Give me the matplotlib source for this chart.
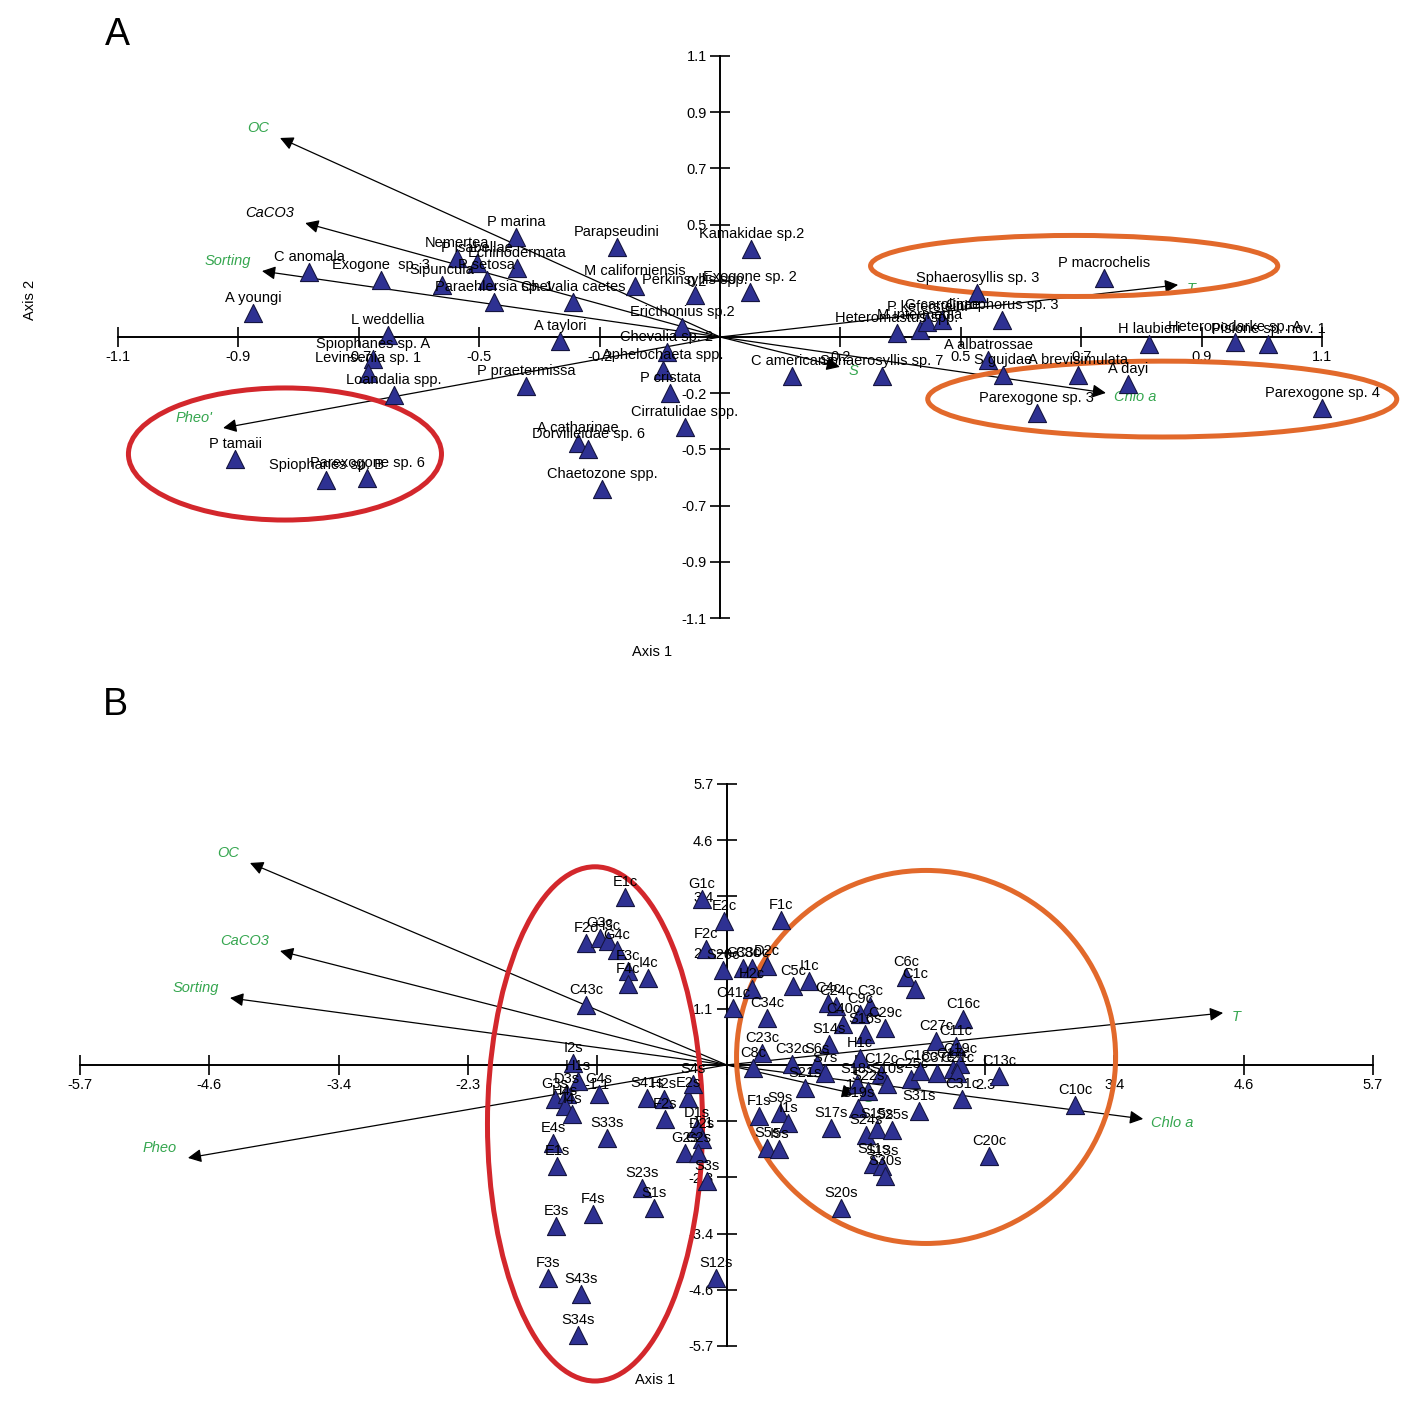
import numpy as np
import matplotlib.pyplot as plt
from matplotlib.patches import Ellipse

plt.rcParams['font.family'] = ['Liberation Sans', 'DejaVu Sans']

GREEN = '#35a64f'
TRI = '#2e3192'

# ---- panel A : species scores ----
sp_names = ['A youngi', 'C anomala', 'Exogone  sp. 3', 'Sipuncula', 'Nemertea', 'P isabellae',
            'Echinodermata', 'P setosa', 'Paraehlersia sp. 1', 'L weddellia', 'P marina',
            'Parapseudini', 'Chevalia caetes', 'M californiensis', 'Perkinsyllis spp.',
            'Ericthonius sp.2', 'A taylori', 'Chevalia sp. 2', 'Aphelochaeta spp.', 'P cristata',
            'Cirratulidae spp.', 'P praetermissa', 'A catharinae', 'Dorvilleidae sp. 6',
            'Chaetozone spp.', 'Kamakidae sp.2', 'Exogone sp. 2', 'C americana',
            'Sphaerosyllis sp. 7', 'Heteromastus spp.', 'M intermedia', 'P kefersteini',
            'G carolinae', 'Cirrophorus sp. 3', 'Sphaerosyllis sp. 3', 'A albatrossae', 'S gujdae',
            'P macrochelis', 'H laubieri', 'Heteropodarke sp. A', 'Pisione sp. nov. 1',
            'A brevisimulata', 'A dayi', 'Parexogone sp. 4', 'Parexogone sp. 3',
            'Spiophanes sp. A', 'Levinsenia sp. 1', 'Loandalia spp.', 'P tamaii',
            'Spiophanes sp. B', 'Parexogone sp. 6']
sp_x = [-0.853, -0.751, -0.619, -0.508, -0.481, -0.444, -0.371, -0.426, -0.413, -0.607, -0.373,
        -0.188, -0.269, -0.155, -0.046, -0.069, -0.292, -0.097, -0.104, -0.091, -0.064, -0.354,
        -0.259, -0.241, -0.216, 0.057, 0.055, 0.132, 0.296, 0.323, 0.365, 0.378, 0.406, 0.515,
        0.470, 0.490, 0.517, 0.702, 0.784, 0.941, 1.001, 0.654, 0.745, 1.100, 0.579, -0.634,
        -0.643, -0.596, -0.886, -0.720, -0.645]
sp_y = [0.094, 0.254, 0.223, 0.204, 0.309, 0.290, 0.270, 0.223, 0.137, 0.008, 0.391, 0.352,
        0.137, 0.200, 0.164, 0.039, -0.016, -0.059, -0.129, -0.219, -0.352, -0.192, -0.415,
        -0.438, -0.595, 0.344, 0.176, -0.153, -0.153, 0.016, 0.027, 0.059, 0.067, 0.067, 0.172,
        -0.090, -0.149, 0.231, -0.027, -0.020, -0.027, -0.149, -0.184, -0.278, -0.297, -0.086,
        -0.141, -0.227, -0.477, -0.560, -0.552]

# ---- panel A : environmental vectors ----
env_a_names = ['OC', 'CaCO3', 'Sorting', "Pheo'", 'T', 'Chlo a', 'S']
env_a_x = [-0.804, -0.758, -0.837, -0.908, 0.837, 0.705, 0.219]
env_a_y = [0.779, 0.446, 0.258, -0.356, 0.204, -0.219, -0.117]

# ---- panel B : sample scores ----
st_names = ['E1c', 'F2c', 'G3c', 'H3c', 'G4c', 'F3c', 'F4c', 'I4c', 'C43c', 'I2s', 'H1s', 'G3s',
            'D3s', 'H4s', 'I4s', 'G4s', 'S41s', 'H2s', 'E2s', 'S4s', 'S33s', 'E4s', 'E1s', 'S23s',
            'S1s', 'F4s', 'E3s', 'F3s', 'S43s', 'S34s', 'S12s', 'F2s', 'D1s', 'D2s', 'G2s', 'C2s',
            'S3s', 'G1c', 'E2c', 'F1c', 'F2c', 'S20c', 'C38c', 'C30c', 'D2c', 'H2c', 'C5c', 'I1c',
            'C41c', 'C34c', 'C6c', 'C1c', 'C24c', 'C4c', 'C3c', 'C9c', 'C40c', 'C29c', 'C16c',
            'C27c', 'C11c', 'S14s', 'H1c', 'C23c', 'C8c', 'C32c', 'S6s', 'S7s', 'S16s', 'S21s',
            'S18s', 'C12c', 'S10s', 'C25c', 'C18c', 'C37c', 'C17c', 'C19c', 'C21c', 'C13c', 'C31c',
            'S31s', 'S22s', 'F1s', 'S9s', 'I1s', 'S5s', 'I5s', 'S17s', 'S19s', 'S24s', 'S15s',
            'S25s', 'S11s', 'S13s', 'S30s', 'S20s', 'C20c', 'C10c']
st_x = [-0.895, -1.239, -1.116, -1.045, -0.966, -0.869, -0.869, -0.692, -1.239, -1.354, -1.310,
        -1.512, -1.407, -1.424, -1.362, -1.124, -0.701, -0.551, -0.340, -0.295, -1.054, -1.530,
        -1.495, -0.745, -0.639, -1.177, -1.504, -1.574, -1.283, -1.310, -0.093, -0.542, -0.260,
        -0.216, -0.366, -0.251, -0.172, -0.216, -0.022, 0.481, -0.181, -0.031, 0.146, 0.225,
        0.357, 0.225, 0.586, 0.728, 0.057, 0.357, 1.583, 1.662, 0.965, 0.895, 1.265, 1.177,
        1.027, 1.398, 2.086, 1.847, 2.023, 0.903, 1.177, 0.313, 0.234, 0.578, 0.798, 0.869,
        1.221, 0.692, 1.151, 1.362, 1.415, 1.627, 1.706, 1.856, 1.997, 2.059, 2.032, 2.403,
        2.077, 1.698, 1.248, 0.287, 0.472, 0.542, 0.357, 0.463, 0.922, 1.160, 1.230, 1.327,
        1.459, 1.292, 1.371, 1.398, 1.009, 2.315, 3.073]
st_y = [3.408, 2.475, 2.576, 2.515, 2.333, 1.907, 1.643, 1.765, 1.217, 0.041, -0.325, -0.690,
        -0.588, -0.832, -0.994, -0.588, -0.669, -0.690, -0.669, -0.385, -1.481, -1.582, -2.049,
        -2.495, -2.901, -3.022, -3.266, -4.320, -4.645, -5.477, -4.320, -1.095, -1.278, -1.501,
        -1.785, -1.785, -2.353, 3.367, 2.921, 2.941, 2.353, 1.927, 1.968, 1.968, 2.008, 1.542,
        1.602, 1.704, 1.156, 0.953, 1.785, 1.542, 1.197, 1.258, 1.197, 1.034, 0.832, 0.751,
        0.933, 0.487, 0.385, 0.426, 0.142, 0.243, -0.061, 0.020, 0.020, -0.162, 0.629, -0.467,
        -0.385, -0.183, -0.385, -0.284, -0.122, -0.162, -0.081, 0.020, -0.162, -0.223, -0.690,
        -0.933, -0.527, -1.034, -0.974, -1.176, -1.684, -1.704, -1.278, -0.872, -1.420, -1.298,
        -1.318, -2.008, -2.049, -2.252, -2.901, -1.846, -0.811]

# ---- panel B : environmental vectors ----
env_b_names = ['OC', 'CaCO3', 'Sorting', 'Pheo', 'T', 'Chlo a', 'S']
env_b_x = [-4.202, -3.937, -4.378, -4.749, 4.378, 3.673, 1.133]
env_b_y = [4.097, 2.312, 1.359, -1.886, 1.055, -1.095, -0.588]

ticks_a = ['-1.1', '-0.9', '-0.7', '-0.5', '-0.2', '', '0.2', '0.5', '0.7', '0.9', '1.1']
ticks_b = ['-5.7', '-4.6', '-3.4', '-2.3', '-1.1', '', '1.1', '2.3', '3.4', '4.6', '5.7']


def draw_panel(ax, lim, tick_labels, px, py, names, ex, ey, enames, ecolors):
    ax.set_xlim(-lim, lim)
    ax.set_ylim(-lim, lim)
    for s in ['top', 'right']:
        ax.spines[s].set_visible(False)
    for s in ['left', 'bottom']:
        ax.spines[s].set_position(('data', 0))
        ax.spines[s].set_linewidth(1.4)
    pos = np.linspace(-lim, lim, 11)
    ax.set_xticks(pos, labels=tick_labels)
    ax.set_yticks(pos, labels=tick_labels)
    ax.tick_params(direction='inout', length=15, width=1.2, labelsize=10.5, pad=2)
    ax.patch.set_alpha(0)

    # vectors
    for x, y, n, c in zip(ex, ey, enames, ecolors):
        ax.annotate('', xy=(x, y), xytext=(0, 0),
                    arrowprops=dict(arrowstyle='-|>', color='k', lw=0.9,
                                    mutation_scale=20, shrinkA=0, shrinkB=0))
        if x < 0:
            ax.annotate(n, (x, y), xytext=(-8, 2), textcoords='offset points',
                        ha='right', va='bottom', color=c, style='italic', fontsize=10.5)
        else:
            ax.annotate(n, (x, y), xytext=(6, -3), textcoords='offset points',
                        ha='left', va='center', color=c, style='italic', fontsize=10.5)

    ax.scatter(px, py, marker='^', s=170, c=TRI, edgecolors='#151540',
               linewidths=0.8, zorder=4, clip_on=False)
    for x, y, n in zip(px, py, names):
        ax.annotate(n, (x, y), xytext=(0, 6), textcoords='offset points',
                    ha='center', va='bottom', fontsize=10.5, zorder=5)


def ring(ax, xy, w, h, col):
    ax.add_patch(Ellipse(xy, w, h, fill=False, ec=col, lw=3.6, clip_on=False, zorder=3))


fig = plt.figure(figsize=(14.17, 14.24), dpi=100)

ax_a = fig.add_axes([0.0833, 0.566, 0.8497, 0.3947])
draw_panel(ax_a, 1.1, ticks_a, sp_x, sp_y, sp_names, env_a_x, env_a_y, env_a_names,
           [GREEN, 'k', GREEN, GREEN, GREEN, GREEN, GREEN])
ring(ax_a, (-0.795, -0.458), 0.572, 0.517, '#d3272c')
ring(ax_a, (0.647, 0.278), 0.744, 0.239, '#e2692b')
ring(ax_a, (0.808, -0.243), 0.857, 0.297, '#e2692b')

ax_b = fig.add_axes([0.0565, 0.0548, 0.9125, 0.3947])
draw_panel(ax_b, 5.7, ticks_b, st_x, st_y, st_names, env_b_x, env_b_y, env_b_names,
           [GREEN] * 7)
ring(ax_b, (-1.160, -1.196), 1.896, 10.43, '#d3272c')
ring(ax_b, (1.759, 0.162), 3.342, 7.566, '#e2692b')

fig.text(117 / 1417, 1 - 35 / 1424, 'A', fontsize=27, ha='center', va='center')
fig.text(115 / 1417, 1 - 705 / 1424, 'B', fontsize=27, ha='center', va='center')
fig.text(30 / 1417, 1 - 300 / 1424, 'Axis 2', fontsize=10.5, rotation=90, ha='center', va='center')
fig.text(652 / 1417, 1 - 652 / 1424, 'Axis 1', fontsize=10.5, ha='center', va='center')
fig.text(655 / 1417, 1 - 1380 / 1424, 'Axis 1', fontsize=10.5, ha='center', va='center')

fig.savefig('out.png', dpi=100)
